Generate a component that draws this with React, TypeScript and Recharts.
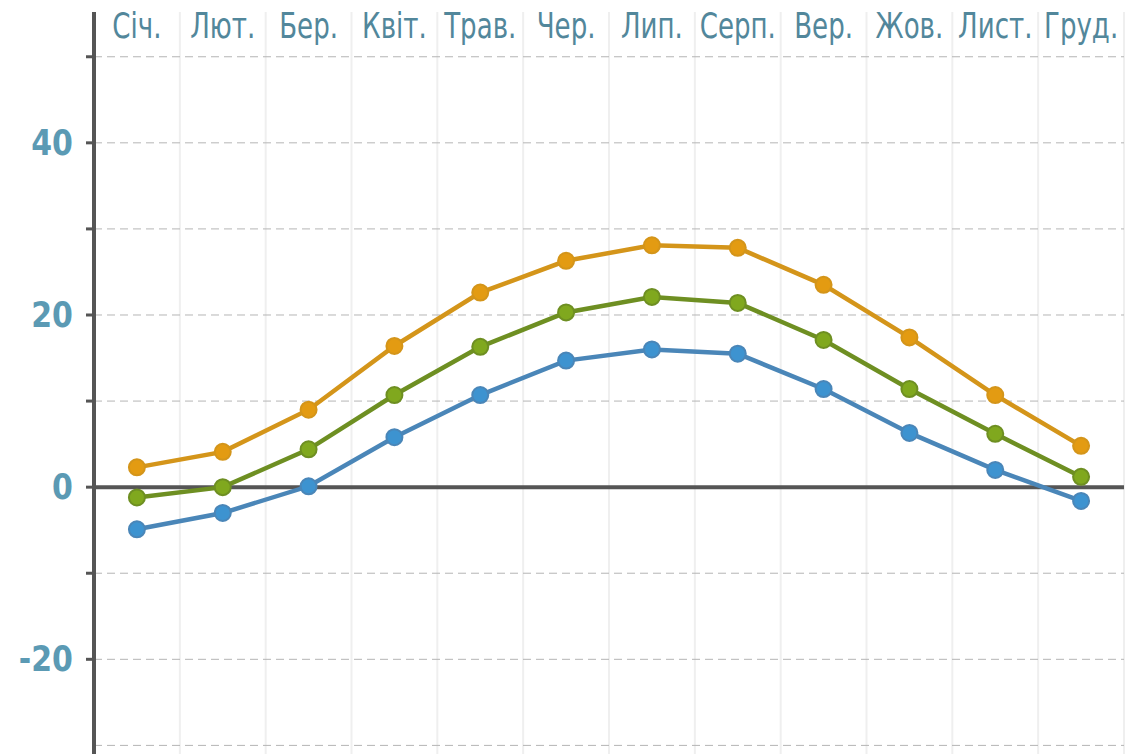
import { LineChart, Line, XAxis, YAxis, CartesianGrid, ReferenceLine } from "recharts";

// місяці та температури (макс / середня / мін)
const months = ["Січ.", "Лют.", "Бер.", "Квіт.", "Трав.", "Чер.", "Лип.", "Серп.", "Вер.", "Жов.", "Лист.", "Груд."];
const maxTemp = [2.3, 4.1, 9.0, 16.4, 22.6, 26.3, 28.1, 27.8, 23.5, 17.4, 10.7, 4.8];
const meanTemp = [-1.2, 0.0, 4.4, 10.7, 16.3, 20.3, 22.1, 21.4, 17.1, 11.4, 6.2, 1.2];
const minTemp = [-4.9, -3.0, 0.1, 5.8, 10.7, 14.7, 16.0, 15.5, 11.4, 6.3, 2.0, -1.6];
const yTicks = [-30, -20, -10, 0, 10, 20, 30, 40, 50];
const Y_MIN = -31;
const Y_MAX = 55.2;

const data = months.map((m, i) => ({
  month: m,
  max: maxTemp[i],
  mean: meanTemp[i],
  min: minTemp[i],
}));

const XTick = ({ x, y, payload }: any) => (
  <g transform={`translate(${x},${y + 34})`}>
    <text
      transform="scale(1,1.2)"
      textAnchor="middle"
      fill="#52879b"
      fontSize={29}
      fontFamily="'DejaVu Sans Condensed', 'DejaVu Sans', sans-serif"
    >
      {payload.value}
    </text>
  </g>
);

const YTick = ({ x, y, payload }: any) => {
  if (payload.value % 20 !== 0) return <g />;
  return (
    <g transform={`translate(${x},${y + 12})`}>
      <text
        transform="scale(1,1.2)"
        textAnchor="end"
        fill="#5b9ab4"
        fontSize={30}
        fontWeight="bold"
        fontFamily="'DejaVu Sans', sans-serif"
      >
        {payload.value}
      </text>
    </g>
  );
};

export default function App() {
  return (
    <div style={{ position: "absolute", left: 0, top: 0, background: "#fff" }}>
      <LineChart
        width={1136}
        height={754}
        data={data}
        margin={{ top: 0, right: 12, bottom: 0, left: 0 }}
      >
        <CartesianGrid
          horizontal={false}
          stroke="#efefef"
          strokeWidth={2}
          verticalCoordinatesGenerator={({ offset }: any) =>
            months.map((_, i) => offset.left + ((i + 1) * offset.width) / months.length)
          }
        />
        <CartesianGrid
          vertical={false}
          stroke="#b5b5b5"
          strokeDasharray="8 5"
          horizontalCoordinatesGenerator={({ offset }: any) =>
            yTicks.map((t) => offset.top + ((Y_MAX - t) / (Y_MAX - Y_MIN)) * offset.height)
          }
        />
        <XAxis
          dataKey="month"
          orientation="top"
          scale="band"
          height={12}
          axisLine={false}
          tickLine={false}
          interval={0}
          tick={<XTick />}
        />
        <YAxis
          type="number"
          domain={[Y_MIN, Y_MAX]}
          ticks={yTicks}
          allowDataOverflow
          width={94}
          axisLine={{ stroke: "#555", strokeWidth: 4 }}
          tickLine={{ stroke: "#555", strokeWidth: 3 }}
          tickSize={8}
          tickMargin={13}
          tick={<YTick />}
        />
        <ReferenceLine y={0} stroke="#555" strokeWidth={4} />
        <Line
          dataKey="min"
          type="linear"
          stroke="#4a86b8"
          strokeWidth={4.5}
          dot={{ r: 8, fill: "#3d93d0", stroke: "#4a86b8", strokeWidth: 2 }}
          isAnimationActive={false}
        />
        <Line
          dataKey="mean"
          type="linear"
          stroke="#6e8f22"
          strokeWidth={4.5}
          dot={{ r: 8, fill: "#80a81e", stroke: "#6e8f22", strokeWidth: 2 }}
          isAnimationActive={false}
        />
        <Line
          dataKey="max"
          type="linear"
          stroke="#d4951a"
          strokeWidth={4.5}
          dot={{ r: 8, fill: "#e39b12", stroke: "#d4951a", strokeWidth: 2 }}
          isAnimationActive={false}
        />
      </LineChart>
    </div>
  );
}
